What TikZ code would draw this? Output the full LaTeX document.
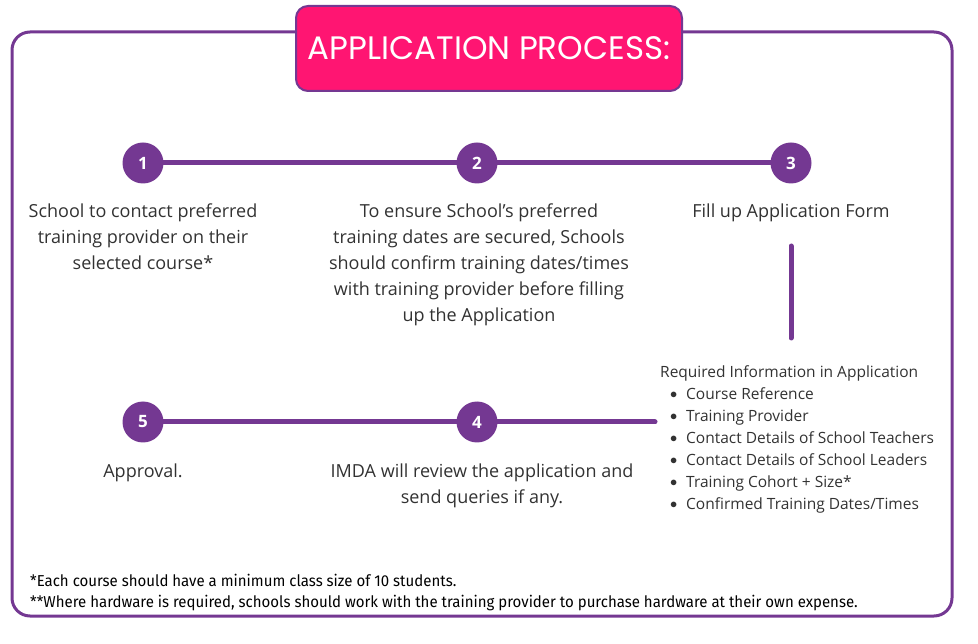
\documentclass[tikz,border=0pt]{standalone}
\usepackage{fontspec}
\setmainfont{Open Sans}
\newfontfamily\titlefont{Poppins}
\newfontfamily\notefont{Fira Sans}[FakeStretch=0.95]
\definecolor{purp}{RGB}{116,56,146}
\definecolor{hotpink}{RGB}{255,21,114}
\definecolor{txt}{RGB}{50,50,50}
\newcommand{\bul}{\hspace*{10pt}\makebox[16pt][l]{\raisebox{0.3pt}{$\bullet$}}}
\begin{document}
\begin{tikzpicture}[x=1pt,y=-1pt,
  stepnum/.style={circle,fill=purp,minimum size=41pt,inner sep=0pt,text=white,font=\fontsize{17}{17}\selectfont\bfseries},
  link/.style={draw=purp,line width=5pt,line cap=round},
  desc/.style={align=center,text=txt,font=\fontsize{18}{26}\selectfont,inner sep=0pt,anchor=north},
  note/.style={anchor=west,text=black,font=\notefont\fontsize{15.8}{18}\selectfont,inner sep=0pt}]
\useasboundingbox (0,0) rectangle (978,644);
% outer frame
\draw[purp,line width=3pt,rounded corners=18pt] (12,32) rectangle (952,616);
% title
\node[draw=purp,line width=2pt,fill=hotpink,rounded corners=12pt,minimum width=386pt,minimum height=85pt,inner sep=0pt,
  text=white,font=\titlefont\fontsize{32.5}{32.5}\selectfont] (title) at (489,48.5) {APPLICATION PROCESS:};
% circles
\node[stepnum] (c1) at (143,163) {1};
\node[stepnum] (c2) at (477,163) {2};
\node[stepnum] (c3) at (791,163) {3};
\node[stepnum] (c5) at (143,422) {5};
\node[stepnum] (c4) at (477,422) {4};
\coordinate (e4) at (655,422);
\coordinate (v1) at (791,246);
\coordinate (v2) at (791,338);
\draw[link] (c1) -- (c2);
\draw[link] (c2) -- (c3);
\draw[link] (c5) -- (c4);
\draw[link] (c4) -- (e4);
\draw[link] (v1) -- (v2);
% descriptions
\node[desc] (t1) at (143,204) {School to contact preferred\\training provider on their\\selected course*};
\node[desc] (t2) at (479,204) {To ensure School's preferred\\training dates are secured, Schools\\should confirm training dates/times\\with training provider before filling\\up the Application};
\node[desc] (t3) at (791,204) {Fill up Application Form};
\node[desc] (t5) at (143,464) {Approval.};
\node[desc] (t4) at (482,464) {IMDA will review the application and\\send queries if any.};
% required info
\node[anchor=north west,align=left,text=txt,font=\fontsize{15.5}{22}\selectfont,inner sep=0pt] (req) at (660,365)
{Required Information in Application\\
\bul Course Reference\\
\bul Training Provider\\
\bul Contact Details of School Teachers\\
\bul Contact Details of School Leaders\\
\bul Training Cohort + Size*\\
\bul Confirmed Training Dates/Times};
% footnotes
\node[note] (n1) at (30,580) {*Each course should have a minimum class size of 10 students.};
\node[note] (n2) at (30,603) {**Where hardware is required, schools should work with the training provider to purchase hardware at their own expense.};
\end{tikzpicture}
\end{document}
